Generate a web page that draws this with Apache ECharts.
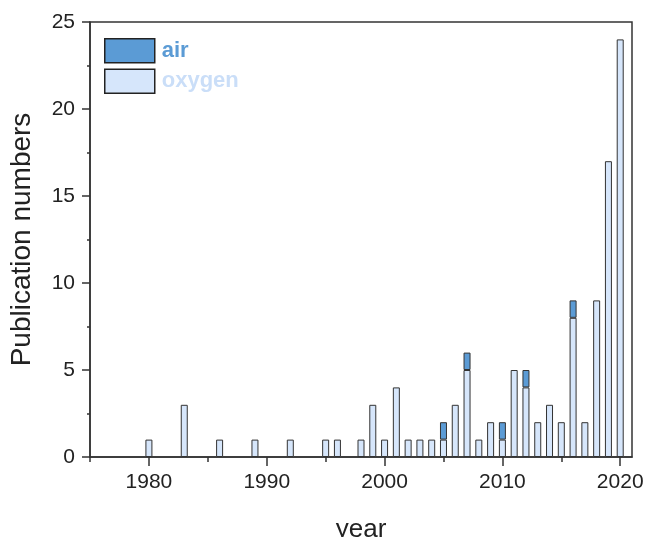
<!DOCTYPE html>
<html><head><meta charset="utf-8">
<script src="https://cdn.jsdelivr.net/npm/echarts@6/dist/echarts.min.js"></script>
<style>html,body{margin:0;padding:0;background:#fff}#c{width:649px;height:537px}</style>
</head><body><div id="c"></div>
<script>
const years  = [1980,1983,1986,1989,1992,1995,1996,1998,1999,2000,2001,2002,2003,2004,2005,2006,2007,2008,2009,2010,2011,2012,2013,2014,2015,2016,2017,2018,2019,2020];
const oxygen = [1,   3,   1,   1,   1,   1,   1,   1,   3,   1,   4,   1,   1,   1,   1,   3,   5,   1,   2,   1,   5,   4,   2,   3,   2,   8,   2,   9,   17,  24];
const air    = [0,   0,   0,   0,   0,   0,   0,   0,   0,   0,   0,   0,   0,   0,   1,   0,   1,   0,   0,   1,   0,   1,   0,   0,   0,   1,   0,   0,   0,   0];
const axisStart = 1975, axisEnd = 2021;
const xTickLabels = [1980,1990,2000,2010,2020];
const yTickLabels = [0,5,10,15,20,25];

const cats = [];
for (let y = axisStart; y <= axisEnd; y++) cats.push(String(y));
const valFor = (arr, c) => { const i = years.indexOf(+c); return (i >= 0 && arr[i] > 0) ? arr[i] : '-'; };

const font = 'Liberation Sans, Arial, sans-serif';
const chart = echarts.init(document.getElementById('c'));
chart.setOption({
  animation:false,
  textStyle:{fontFamily:font},
  grid:{left:90,right:17,top:22,bottom:80,containLabel:false,outerBoundsMode:'none',
        show:true,borderColor:'#333',borderWidth:1.5,backgroundColor:'transparent'},
  legend:{
    orient:'vertical',left:104,top:38,padding:0,itemWidth:50,itemHeight:24,itemGap:5,icon:'rect',
    data:[
      {name:'air',textStyle:{color:'#5b9bd5'}},
      {name:'oxygen',textStyle:{color:'#cadef8'}}
    ],
    textStyle:{fontSize:22,fontWeight:'bold',fontFamily:font,padding:[0,0,0,2]},
    itemStyle:{borderColor:'#222',borderWidth:1.5}
  },
  xAxis:[{
    type:'category',data:cats,boundaryGap:false,
    axisLine:{show:true,lineStyle:{color:'#333',width:1.5}},
    axisTick:{show:true,length:5,interval:(i,v)=>(+v)%5===0,lineStyle:{color:'#333',width:1.5}},
    splitLine:{show:false},
    axisLabel:{show:false}
  },{
    type:'category',data:cats,boundaryGap:false,position:'bottom',offset:0,
    name:'year',nameLocation:'middle',nameGap:60,
    nameTextStyle:{fontSize:26,color:'#222',fontFamily:font},
    axisLine:{show:false},
    axisTick:{show:true,length:9,interval:(i,v)=>xTickLabels.includes(+v),lineStyle:{color:'#333',width:1.5}},
    splitLine:{show:false},
    axisLabel:{fontSize:21,color:'#222',margin:15,interval:(i,v)=>xTickLabels.includes(+v)}
  }],
  yAxis:{
    type:'value',min:0,max:25,interval:5,
    name:'Publication numbers',nameLocation:'middle',nameGap:54,
    nameTextStyle:{fontSize:28,color:'#222',fontFamily:font},
    axisLine:{show:true,lineStyle:{color:'#333',width:1.5}},
    axisTick:{show:true,length:8,lineStyle:{color:'#333',width:1.5}},
    minorTick:{show:true,splitNumber:2,length:3,lineStyle:{color:'#333',width:1.5}},
    splitLine:{show:false},
    axisLabel:{fontSize:21,color:'#222',margin:15,
      formatter:v=>yTickLabels.includes(v)?String(v):''}
  },
  series:[
    {name:'oxygen',type:'bar',stack:'t',barWidth:7,xAxisIndex:0,
     itemStyle:{color:'#d6e6fb',borderColor:'#333',borderWidth:1},
     data:cats.map(c=>valFor(oxygen,c))},
    {name:'air',type:'bar',stack:'t',barWidth:7,xAxisIndex:0,
     itemStyle:{color:'#5b9bd5',borderColor:'#333',borderWidth:1},
     data:cats.map(c=>valFor(air,c))}
  ]
});
</script></body></html>
